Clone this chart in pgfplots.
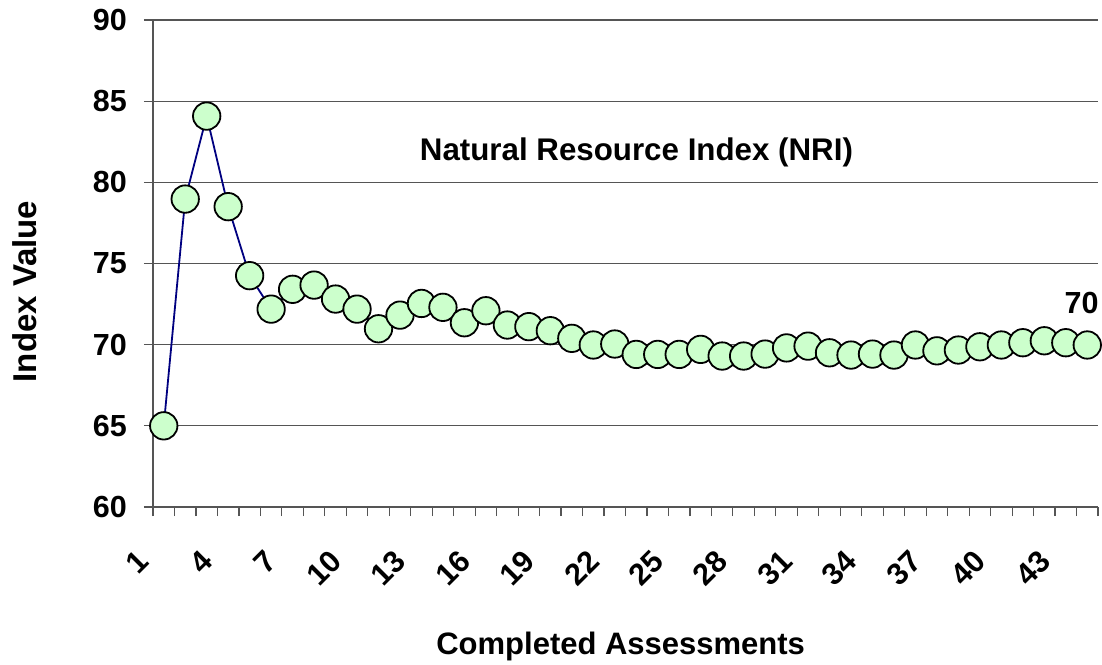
\documentclass[border=0pt]{standalone}
\usepackage{fontspec}
\setmainfont{Liberation Sans}
\usepackage{pgfplots}
\pgfplotsset{compat=1.18}
\definecolor{mkfill}{HTML}{CCFFCC}
\definecolor{navyline}{HTML}{000080}
\definecolor{gridc}{HTML}{555555}
\begin{document}
\begin{tikzpicture}
\path[use as bounding box] (0,0) rectangle (1102pt,664pt);
\begin{axis}[
  at={(153pt,157pt)}, anchor=south west,
  scale only axis, width=945pt, height=487pt,
  xmin=0.5, xmax=44.5, ymin=60, ymax=90,
  axis lines*=left,
  axis line style={draw=gridc, line width=1.2pt},
  ytick={60,65,...,90},
  xtick={1,4,...,43},
  minor xtick={0.5,1.5,...,44.5},
  major x tick style={draw=none},
  minor x tick style={draw=gridc, line width=1.2pt},
  y tick style={draw=gridc, line width=1.2pt},
  tick align=outside,
  major tick length=9pt, minor tick length=9pt,
  ymajorgrids,
  grid style={draw=gridc, line width=1.2pt},
  /pgf/number format/assume math mode=true,
  ticklabel style={font=\bfseries\fontsize{30.5}{36}\selectfont, inner sep=0pt},
  yticklabel style={xshift=-17pt},
  xticklabel style={xshift=-21pt, yshift=-40pt, rotate=45, anchor=east},
  xlabel={Completed Assessments},
  ylabel={Index Value},
  xlabel style={at={(axis description cs:0.4949,-0.3029)}, anchor=base, font=\bfseries\fontsize{31}{36}\selectfont},
  ylabel style={at={(axis description cs:-0.1228,0.4425)}, anchor=base, font=\bfseries\fontsize{33}{38}\selectfont},
  clip=false,
]
\addplot[navyline, line width=1.8pt, mark=*, mark size=13.7pt,
  mark options={fill=mkfill, draw=black, line width=1.8pt}]
coordinates {
(1,65.0) (2,78.97) (3,84.08) (4,78.5) (5,74.25) (6,72.19) (7,73.41) (8,73.67)
(9,72.81) (10,72.19) (11,70.98) (12,71.82) (13,72.54) (14,72.30) (15,71.35)
(16,72.09) (17,71.21) (18,71.11) (19,70.86) (20,70.39) (21,69.98) (22,70.04)
(23,69.40) (24,69.40) (25,69.40) (26,69.71) (27,69.30) (28,69.30) (29,69.42)
(30,69.80) (31,69.91) (32,69.50) (33,69.36) (34,69.42) (35,69.36) (36,69.98)
(37,69.62) (38,69.67) (39,69.87) (40,69.98) (41,70.12) (42,70.24) (43,70.12)
(44,69.98)
};
\node[anchor=base, font=\bfseries\fontsize{31.3}{36}\selectfont, inner sep=0pt]
  at (axis description cs:0.5116,0.7125) {Natural Resource Index (NRI)};
\node[anchor=base, font=\bfseries\fontsize{30.5}{36}\selectfont, inner sep=0pt,
  xshift=-5.7pt, yshift=31.7pt] at (axis cs:44,69.98) {70};
\end{axis}
\end{tikzpicture}
\end{document}
